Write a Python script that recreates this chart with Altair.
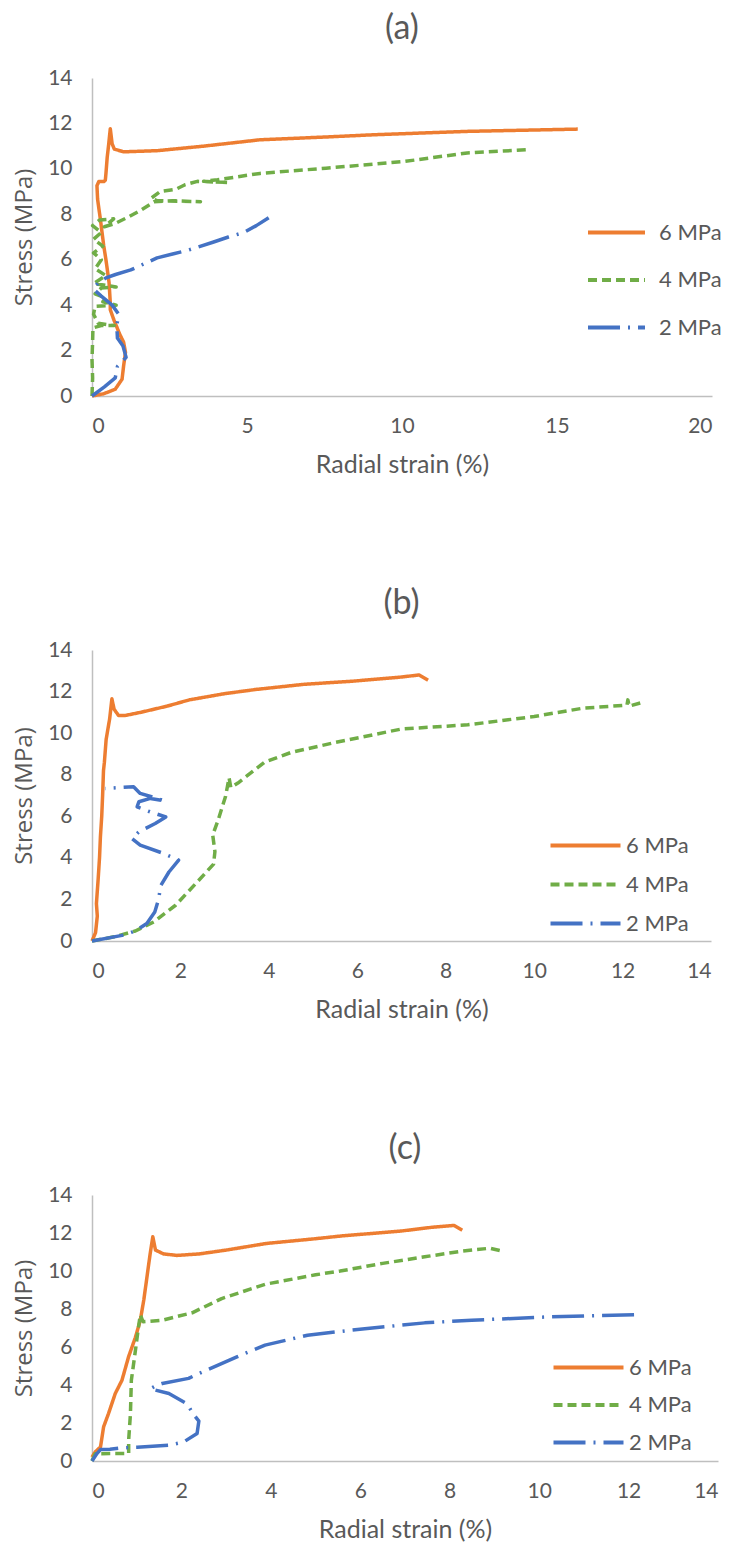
import altair as alt
import pandas as pd

SERIES = ["6 MPa", "4 MPa", "2 MPa"]
COLORS = ["#ED7D31", "#70AD47", "#4472C4"]
DASHES = [[1, 0], [9, 5], [32, 8, 2, 8]]
Y_TICKS = [0, 2, 4, 6, 8, 10, 12, 14]
X_TICKS_A = [0, 5, 10, 15, 20]
X_TICKS_BC = [0, 2, 4, 6, 8, 10, 12, 14]
TITLES = ["(a)", "(b)", "(c)"]

# ---------------- panel (a) ----------------
A6_X = [0, 0.38, 0.75, 0.97, 1.02, 1.08, 1.02, 0.9, 0.7, 0.59, 0.59, 0.55, 0.45, 0.38, 0.27, 0.18, 0.16, 0.22, 0.38, 0.43,
        0.45, 0.49, 0.54, 0.59, 0.65, 0.72, 1.02, 2.1, 3.6, 5.42, 7.5, 9.07, 12.1, 15.67]
A6_Y = [0, 0.1, 0.3, 0.74, 1.33, 1.92, 2.37, 2.7, 3.37, 3.8, 4.1, 5.0, 6.0, 6.6, 7.78, 8.67, 9.26, 9.44, 9.44, 9.5,
        9.8, 10.5, 11.1, 11.77, 11.1, 10.87, 10.75, 10.8, 11.0, 11.28, 11.4, 11.5, 11.65, 11.75]
A4_X = [0, 0.02, 0.0, 0.02, 0.03, 0.3, 0.72, 0.2, 0.05, 0.1, 0.78, 0.35, 0.45, 0.1, 0.3, 0.78, 0.05, 0.45, 0.1, 0.3,
        0.05, 0.35, 0.05, 0.3, 0.02, 0.25, 0.7, 0.4, 0.75, 1.2, 1.6, 2.0, 2.6, 3.5, 2.1, 1.9, 2.2, 2.7, 3.0, 3.4,
        4.4, 3.6, 4.05, 5.42, 7.55, 10.1, 12.1, 14.0]
A4_Y = [0, 0.8, 1.6, 2.4, 3.0, 3.1, 3.1, 3.2, 3.6, 3.95, 4.0, 4.15, 4.3, 4.5, 4.75, 4.8, 4.95, 5.3, 5.6, 6.0,
        6.3, 6.6, 6.9, 7.2, 7.5, 7.75, 7.8, 7.45, 7.6, 7.9, 8.2, 8.55, 8.6, 8.55, 8.6, 8.7, 9.0, 9.1, 9.3, 9.45,
        9.4, 9.45, 9.52, 9.8, 10.03, 10.33, 10.7, 10.84]
A2_X = [0, 0.4, 0.75, 0.82, 1.1, 1.0, 0.82, 0.8, 0.86, 0.65, 0.3, 0.05, 0.2, 0.45, 0.76, 1.25, 2.1, 2.6, 3.1, 3.9,
        4.4, 4.9, 5.3, 5.7]
A2_Y = [0, 0.4, 0.8, 1.3, 1.7, 2.2, 2.55, 3.1, 3.6, 4.0, 4.4, 4.7, 5.0, 5.2, 5.35, 5.55, 6.08, 6.25, 6.42, 6.77,
        7.0, 7.2, 7.5, 7.85]

# ---------------- panel (b) ----------------
B6_X = [0, 0.08, 0.12, 0.1, 0.14, 0.17, 0.19, 0.22, 0.24, 0.26, 0.28, 0.32, 0.4, 0.45, 0.5, 0.6, 0.75, 1.1, 1.7, 2.2,
        3.0, 3.7, 4.8, 5.9, 7.0, 7.4, 7.6]
B6_Y = [0, 0.4, 1.2, 1.8, 3.0, 4.0, 5.0, 6.0, 7.0, 8.2, 8.6, 9.7, 10.7, 11.65, 11.15, 10.85, 10.85, 11.0, 11.3, 11.6,
        11.9, 12.1, 12.35, 12.5, 12.7, 12.8, 12.55]
B4_X = [0, 0.5, 0.98, 1.4, 1.89, 2.38, 2.75, 2.78, 2.73, 2.85, 3.02, 3.1, 3.14, 3.3, 3.9, 4.5, 5.5, 7.0, 8.5, 10.0,
        11.1, 12.1, 12.12, 12.15, 12.4]
B4_Y = [0, 0.2, 0.48, 0.92, 1.72, 2.84, 3.7, 4.3, 5.1, 5.8, 6.95, 7.85, 7.38, 7.6, 8.6, 9.07, 9.55, 10.2, 10.4, 10.8,
        11.2, 11.35, 11.6, 11.3, 11.45]
B2_X = [0, 0.68, 0.98, 1.24, 1.42, 1.51, 1.55, 1.74, 1.96, 1.62, 1.09, 0.9, 1.06, 1.43, 1.67, 1.32, 1.02, 1.06, 1.32, 1.66,
        1.09, 0.94, 0.3]
B2_Y = [0, 0.27, 0.48, 0.84, 1.4, 2.04, 2.65, 3.32, 3.89, 4.21, 4.61, 4.93, 5.25, 5.65, 5.97, 6.21, 6.45, 6.7, 6.86, 6.74,
        7.1, 7.42, 7.34]

# ---------------- panel (c) ----------------
C6_X = [0, 0.07, 0.19, 0.26, 0.37, 0.52, 0.67, 0.82, 0.97, 1.08, 1.16, 1.23, 1.3, 1.36, 1.42, 1.6, 1.9, 2.4, 3.0, 3.9,
        5.0, 5.6, 6.9, 7.6, 8.1, 8.28]
C6_Y = [0.2, 0.47, 0.74, 1.8, 2.5, 3.55, 4.25, 5.5, 6.5, 7.4, 8.5, 9.7, 10.9, 11.8, 11.1, 10.9, 10.82, 10.9, 11.1, 11.45,
        11.7, 11.85, 12.1, 12.3, 12.4, 12.15]
C4_X = [0, 0.07, 0.4, 0.82, 0.82, 0.86, 0.88, 0.97, 1.04, 1.08, 1.14, 1.57, 2.24, 2.9, 3.87, 5.0, 5.55, 6.5, 7.44, 8.3,
        8.9, 9.17]
C4_Y = [0, 0.38, 0.39, 0.39, 1.1, 2.5, 4.25, 5.8, 7.06, 7.7, 7.33, 7.41, 7.8, 8.55, 9.3, 9.8, 10.0, 10.4, 10.75, 11.05,
        11.2, 11.05]
C2_X = [0, 0.11, 0.19, 0.4, 0.71, 1.01, 1.72, 2.05, 2.35, 2.39, 2.27, 2.13, 1.72, 1.3, 1.45, 1.57, 2.16, 2.39, 3.24, 3.87,
        4.82, 5.81, 7.44, 8.49, 10.28, 12.2]
C2_Y = [0, 0.39, 0.6, 0.62, 0.7, 0.72, 0.83, 1.0, 1.45, 2.1, 2.45, 3.0, 3.55, 3.8, 3.99, 4.08, 4.35, 4.6, 5.48, 6.1,
        6.62, 6.89, 7.27, 7.41, 7.59, 7.7]

FONT = "Lato"
GREY = "#595959"


def frame(curves):
    rows = []
    for name, (xs, ys) in zip(SERIES, curves):
        for i, (x, y) in enumerate(zip(xs, ys)):
            rows.append({"series": name, "i": i, "x": x, "y": y})
    return pd.DataFrame(rows)


def panel(df, title, xticks, width, height, leg, title_offset):
    legend = alt.Legend(
        title=None, orient="none", legendX=leg["x"], legendY=leg["y"],
        symbolType="M-2,0H2", symbolSize=leg["size"], symbolStrokeWidth=4,
        labelOffset=leg["lo"], rowPadding=leg["rp"], padding=0,
        labelFont=FONT, labelFontSize=22, labelColor=GREY,
    )
    return alt.Chart(df).mark_line(strokeWidth=3.5, strokeCap="butt", strokeJoin="round").encode(
        x=alt.X("x:Q", title="Radial strain (%)",
                scale=alt.Scale(domain=[xticks[0], xticks[-1]], nice=False),
                axis=alt.Axis(values=xticks, labelPadding=19, titlePadding=16)),
        y=alt.Y("y:Q", title="Stress (MPa)",
                scale=alt.Scale(domain=[Y_TICKS[0], Y_TICKS[-1]], nice=False),
                axis=alt.Axis(values=Y_TICKS, labelPadding=20, titlePadding=11,
                              titleFont="Open Sans", titleFontSize=24)),
        color=alt.Color("series:N", scale=alt.Scale(domain=SERIES, range=COLORS), legend=legend),
        strokeDash=alt.StrokeDash("series:N", scale=alt.Scale(domain=SERIES, range=DASHES), legend=legend),
        order=alt.Order("i:Q"),
    ).properties(
        width=width, height=height,
        title=alt.TitleParams(title, font=FONT, fontSize=34, fontWeight="normal", color=GREY,
                              anchor="middle", offset=title_offset),
    )


pa = panel(frame([(A6_X, A6_Y), (A4_X, A4_Y), (A2_X, A2_Y)]), TITLES[0], X_TICKS_A, 620, 318,
           {"x": 508, "y": 138, "size": 812, "lo": 26, "rp": 19.5}, 21)
pb = panel(frame([(B6_X, B6_Y), (B4_X, B4_Y), (B2_X, B2_Y)]), TITLES[1], X_TICKS_BC, 619, 291,
           {"x": 474, "y": 176, "size": 1225, "lo": 21, "rp": 8}, 18)
pc = panel(frame([(C6_X, C6_Y), (C4_X, C4_Y), (C2_X, C2_Y)]), TITLES[2], X_TICKS_BC, 626, 266,
           {"x": 477, "y": 153, "size": 1225, "lo": 21, "rp": 6.5}, 18)

chart = alt.vconcat(pa, pb, pc, spacing=110).resolve_scale(
    color="independent", strokeDash="independent"
).resolve_legend(
    color="independent", strokeDash="independent"
).configure_view(stroke=None).configure_axis(
    grid=False, ticks=False, domainColor="#BFBFBF", domainWidth=1.5,
    labelFont=FONT, labelFontSize=21, labelColor=GREY,
    titleFont=FONT, titleFontSize=25, titleFontWeight="normal", titleColor=GREY,
).properties(background="white", padding={"left": 12, "top": 12, "right": 5, "bottom": 5})

chart.save("out.html", embed_options={"renderer": "svg", "actions": False})
